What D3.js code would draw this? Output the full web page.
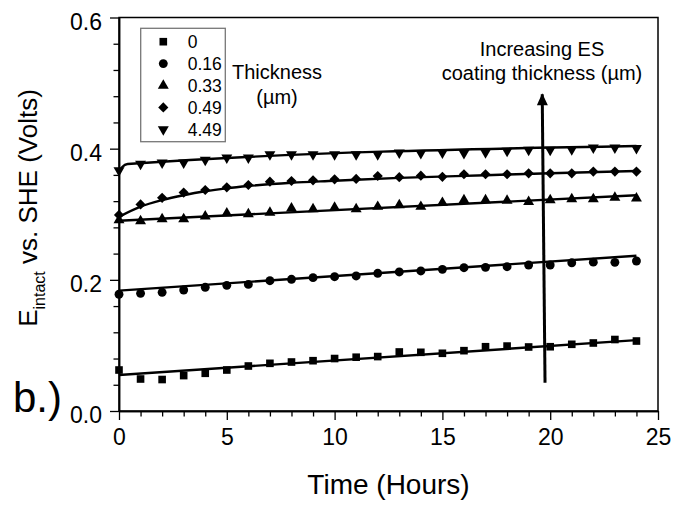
<!DOCTYPE html>
<html>
<head>
<meta charset="utf-8">
<script src="https://cdn.jsdelivr.net/npm/d3@7"></script>
<style>
  body { margin: 0; background: #fff; }
  text { font-family: "Liberation Sans", Arial, sans-serif; fill: #000; }
</style>
</head>
<body>
<div id="chart"></div>
<script>
// hours since immersion
const hours = [0, 1, 2, 3, 4, 5, 6, 7, 8, 9, 10, 11, 12, 13, 14, 15, 16, 17, 18, 19, 20, 21, 22, 23, 24]

// coating thickness (um) for each series, legend order
const thickness = ["0", "0.16", "0.33", "0.49", "4.49"]

// E intact vs SHE (V), one list per thickness
const e000 = [0.0625, 0.0488, 0.048, 0.054, 0.0575, 0.0625, 0.0686, 0.0727, 0.0747, 0.0767, 0.080, 0.082, 0.083, 0.090, 0.0895, 0.088, 0.092, 0.098, 0.099, 0.0976, 0.098, 0.1017, 0.1037, 0.109, 0.1067]
const e016 = [0.178, 0.1795, 0.181, 0.1845, 0.1886, 0.1916, 0.193, 0.1987, 0.2008, 0.2033, 0.2048, 0.2059, 0.210, 0.212, 0.2135, 0.216, 0.2185, 0.219, 0.220, 0.2226, 0.2226, 0.226, 0.227, 0.2267, 0.2287]
const e033 = [0.291, 0.2897, 0.2928, 0.2928, 0.297, 0.3014, 0.3004, 0.3024, 0.309, 0.308, 0.310, 0.308, 0.3115, 0.314, 0.3115, 0.3176, 0.3217, 0.3217, 0.3207, 0.319, 0.3217, 0.3233, 0.3233, 0.3253, 0.3243]
const e049 = [0.299, 0.315, 0.325, 0.333, 0.337, 0.341, 0.3446, 0.3497, 0.3507, 0.3518, 0.3533, 0.3538, 0.3583, 0.3565, 0.3588, 0.357, 0.361, 0.361, 0.361, 0.3624, 0.3624, 0.3624, 0.365, 0.365, 0.365]
const e449 = [0.367, 0.3766, 0.3786, 0.3786, 0.3827, 0.3863, 0.3863, 0.3914, 0.3914, 0.3914, 0.3914, 0.3914, 0.3914, 0.394, 0.393, 0.394, 0.393, 0.3944, 0.3965, 0.398, 0.398, 0.399, 0.4015, 0.4015, 0.4006]

// fitted curves, [hour, volts]
const fit000 = [[0, 0.0549], [24, 0.108]]
const fit016 = [[0, 0.1835], [24, 0.2368]]
const fit033 = [[0, 0.290], [24, 0.329]]
const fit049 = [[0, 0.296], [1, 0.3115], [2, 0.3215], [3, 0.329], [4, 0.335], [5, 0.3395], [6, 0.343], [8, 0.348], [10, 0.351], [13, 0.3555], [17, 0.3595], [20, 0.3625], [24, 0.366]]
const fit449 = [[0, 0.3624], [0.15, 0.372], [0.4, 0.3766], [24, 0.404]]

// axis ticks
const xMajor = [0, 5, 10, 15, 20, 25]
const xMinor = [1, 2, 3, 4, 6, 7, 8, 9, 11, 12, 13, 14, 16, 17, 18, 19, 21, 22, 23, 24]
const yMajor = [0, 0.2, 0.4, 0.6]
const yMinor = [0.04, 0.08, 0.12, 0.16, 0.24, 0.28, 0.32, 0.36, 0.44, 0.48, 0.52, 0.56]

// arrow annotation, [hour, volts]
const arrowFrom = [19.76, 0.043]
const arrowTo = [19.63, 0.483]

const width = 681
const height = 506
const margin = { top: 17.5, right: 23, bottom: 95, left: 119 }

const svg = d3.select("#chart")
    .append("svg")
    .attr("width", width)
    .attr("height", height)

const x = d3.scaleLinear()
    .domain([0, 25])
    .range([margin.left, width - margin.right])

const y = d3.scaleLinear()
    .domain([0, 0.6])
    .range([height - margin.bottom, margin.top])

// frame
svg.append("rect")
    .attr("x", x(0))
    .attr("y", y(0.6))
    .attr("width", x(25) - x(0))
    .attr("height", y(0) - y(0.6))
    .attr("fill", "none")
    .attr("stroke", "#000")
    .attr("stroke-width", 1.5)

function styleAxis(g) {
    g.select(".domain").attr("stroke-width", 1.5)
    g.selectAll(".tick line").attr("stroke-width", 1.3)
    g.selectAll("text")
        .style("font-family", "'Liberation Sans', Arial, sans-serif")
        .style("font-size", "23px")
}

svg.append("g")
    .attr("transform", `translate(0,${y(0)})`)
    .call(d3.axisBottom(x).tickValues(xMinor).tickSize(5.5).tickSizeOuter(0).tickFormat(""))
    .call(styleAxis)

svg.append("g")
    .attr("transform", `translate(0,${y(0)})`)
    .call(d3.axisBottom(x).tickValues(xMajor).tickSize(9).tickSizeOuter(0).tickPadding(9))
    .call(styleAxis)

svg.append("g")
    .attr("transform", `translate(${x(0)},0)`)
    .call(d3.axisLeft(y).tickValues(yMinor).tickSize(5.5).tickSizeOuter(0).tickFormat(""))
    .call(styleAxis)

svg.append("g")
    .attr("transform", `translate(${x(0)},0)`)
    .call(d3.axisLeft(y).tickValues(yMajor).tickSize(9).tickSizeOuter(0).tickPadding(8).tickFormat(d3.format(".1f")))
    .call(styleAxis)
    .call(g => g.selectAll("text").attr("dy", "0.5em"))

// symbols
const shapes = [
    { type: d3.symbolSquare, size: 58, rot: 0 },
    { type: d3.symbolCircle, size: 62, rot: 0 },
    { type: d3.symbolTriangle, size: 52, rot: 0 },
    { type: d3.symbolSquare, size: 52, rot: 45 },
    { type: d3.symbolTriangle, size: 52, rot: 180 }
]

const seriesValues = [e000, e016, e033, e049, e449]
const fits = [fit000, fit016, fit033, fit049, fit449]

const line = d3.line()
    .x(d => x(d[0]))
    .y(d => y(d[1]))
    .curve(d3.curveMonotoneX)

svg.append("g")
    .selectAll("path")
    .data(fits)
    .join("path")
    .attr("d", line)
    .attr("fill", "none")
    .attr("stroke", "#000")
    .attr("stroke-width", 2.4)

seriesValues.forEach((vals, i) => {
    const sym = d3.symbol().type(shapes[i].type).size(shapes[i].size)
    svg.append("g")
        .selectAll("path")
        .data(vals)
        .join("path")
        .attr("d", sym)
        .attr("transform", (d, j) => `translate(${x(hours[j])},${y(d)}) rotate(${shapes[i].rot})`)
        .attr("fill", "#000")
})

// legend
const legend = svg.append("g")

legend.append("rect")
    .attr("x", 140.7)
    .attr("y", 28.3)
    .attr("width", 84.6)
    .attr("height", 113.4)
    .attr("fill", "#fff")
    .attr("stroke", "#777")
    .attr("stroke-width", 1.3)

thickness.forEach((t, i) => {
    const cy = 41.7 + i * 21.9
    legend.append("path")
        .attr("d", d3.symbol().type(shapes[i].type).size(shapes[i].size)())
        .attr("transform", `translate(163.3,${cy}) rotate(${shapes[i].rot})`)
        .attr("fill", "#000")
    legend.append("text")
        .attr("x", 187.7)
        .attr("y", cy)
        .attr("dy", "0.36em")
        .style("font-size", "17.5px")
        .text(t)
})

svg.append("text")
    .attr("x", 277)
    .attr("y", 79)
    .attr("text-anchor", "middle")
    .style("font-size", "20px")
    .text("Thickness")

svg.append("text")
    .attr("x", 277)
    .attr("y", 104)
    .attr("text-anchor", "middle")
    .style("font-size", "20px")
    .text("(µm)")

// annotation
svg.append("text")
    .attr("x", 542)
    .attr("y", 56)
    .attr("text-anchor", "middle")
    .style("font-size", "20px")
    .text("Increasing ES")

svg.append("text")
    .attr("x", 542)
    .attr("y", 80)
    .attr("text-anchor", "middle")
    .style("font-size", "20px")
    .text("coating thickness (µm)")

svg.append("defs")
    .append("marker")
    .attr("id", "head")
    .attr("markerUnits", "userSpaceOnUse")
    .attr("viewBox", "0 0 12 13")
    .attr("refX", 12)
    .attr("refY", 6)
    .attr("markerWidth", 13)
    .attr("markerHeight", 12)
    .attr("orient", "auto")
    .append("path")
    .attr("d", "M0,0 L13,6 L0,12 Z")
    .attr("fill", "#000")

svg.append("line")
    .attr("x1", x(arrowFrom[0]))
    .attr("y1", y(arrowFrom[1]))
    .attr("x2", x(arrowTo[0]))
    .attr("y2", y(arrowTo[1]))
    .attr("stroke", "#000")
    .attr("stroke-width", 3)
    .attr("marker-end", "url(#head)")

// axis titles
svg.append("text")
    .attr("x", x(12.5))
    .attr("y", 494)
    .attr("text-anchor", "middle")
    .style("font-size", "28px")
    .text("Time (Hours)")

const yTitle = svg.append("text")
    .attr("transform", "translate(37,208) rotate(-90)")
    .attr("text-anchor", "middle")
    .style("font-size", "26px")

yTitle.append("tspan").text("E")
yTitle.append("tspan").attr("dy", 8).style("font-size", "16px").text("intact")
yTitle.append("tspan").attr("dy", -8).text(" vs. SHE (Volts)")

svg.append("text")
    .attr("x", 13)
    .attr("y", 412)
    .style("font-size", "42px")
    .text("b.)")
</script>
</body>
</html>
